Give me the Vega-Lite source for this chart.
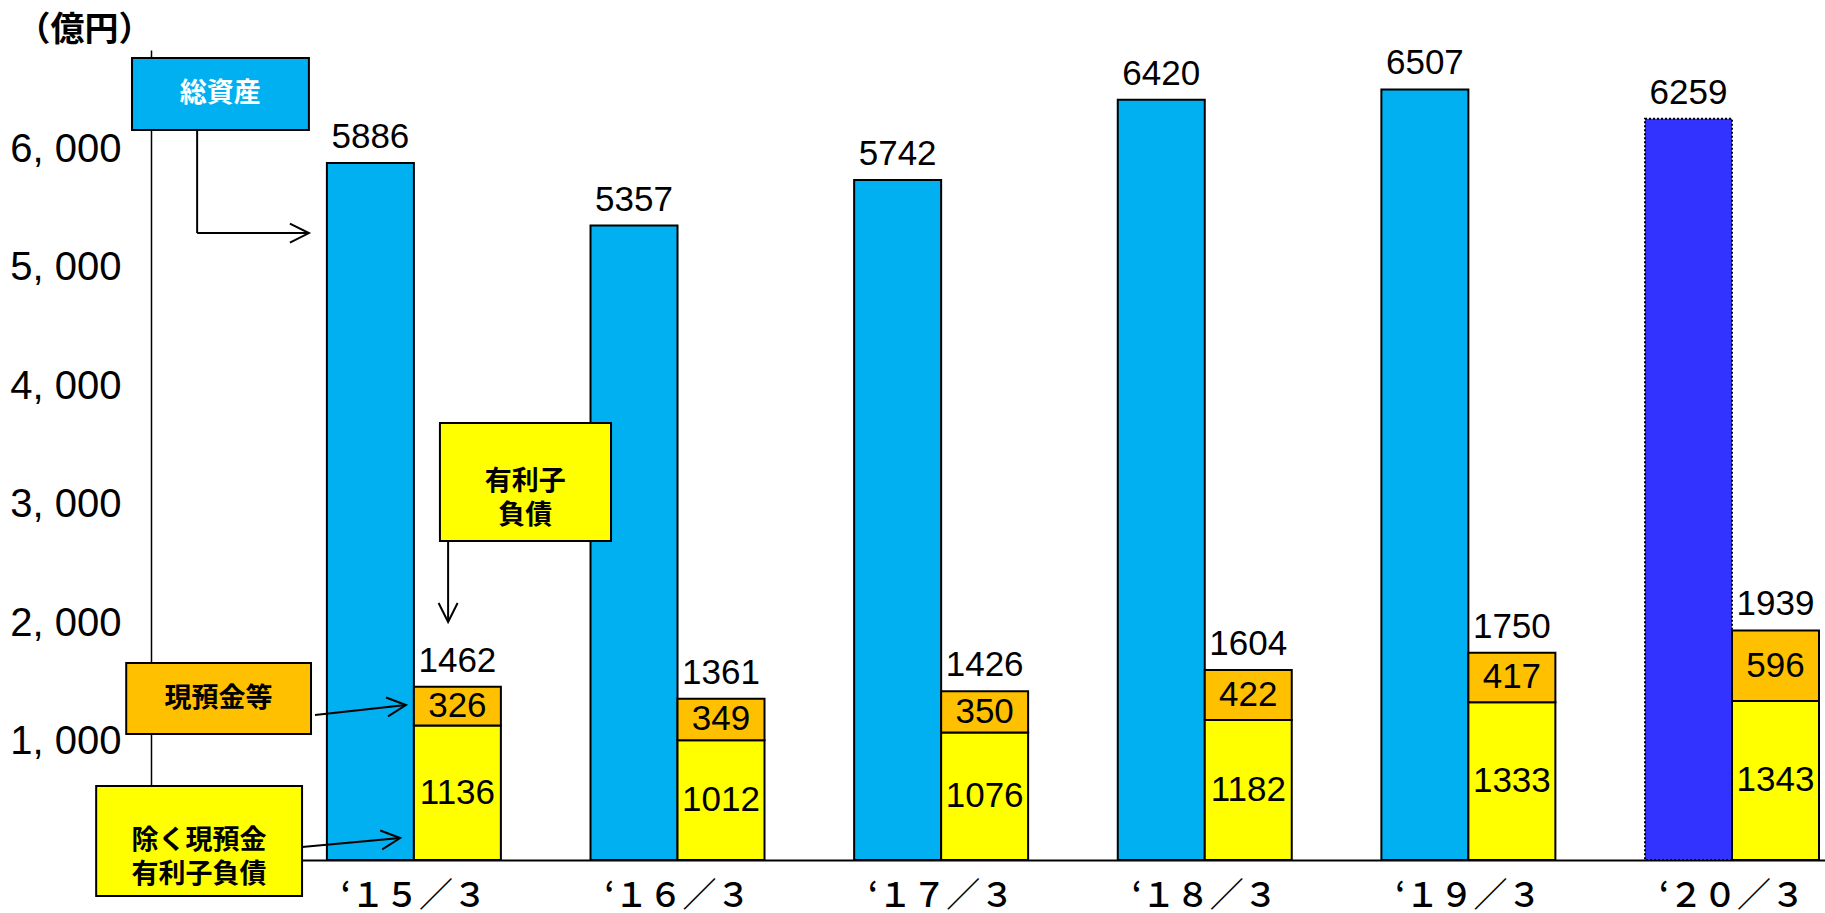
{
  "$schema": "https://vega.github.io/schema/vega-lite/v6.json",
  "width": 1674,
  "height": 810,
  "autosize": {"type": "none"},
  "padding": {"left": 151, "top": 50, "right": 0, "bottom": 53},
  "background": "white",
  "config": {
    "view": {"stroke": null},
    "axis": {"grid": false},
    "axisY": {"labelFont": "Liberation Sans", "labelFontSize": 40, "labelColor": "#000000", "labelPadding": 30, "ticks": false, "tickSize": 0, "domainColor": "#000000", "domainWidth": 1.5, "titleAngle": 0, "titleAlign": "left", "titleBaseline": "middle", "titleX": -135, "titleY": -20, "titleFont": "Noto Sans CJK JP", "titleFontSize": 34, "titleFontWeight": "bold", "titleColor": "#000000"}
  },
  "datasets": {
    "bars": [
      {"year": "‘１５／３", "group": "総資産", "part": "総資産", "value": 5886},
      {"year": "‘１６／３", "group": "総資産", "part": "総資産", "value": 5357},
      {"year": "‘１７／３", "group": "総資産", "part": "総資産", "value": 5742},
      {"year": "‘１８／３", "group": "総資産", "part": "総資産", "value": 6420},
      {"year": "‘１９／３", "group": "総資産", "part": "総資産", "value": 6507},
      {"year": "‘２０／３", "group": "総資産", "part": "総資産", "value": 6259},
      {"year": "‘１５／３", "group": "有利子負債", "part": "除く現預金有利子負債", "value": 1136},
      {"year": "‘１６／３", "group": "有利子負債", "part": "除く現預金有利子負債", "value": 1012},
      {"year": "‘１７／３", "group": "有利子負債", "part": "除く現預金有利子負債", "value": 1076},
      {"year": "‘１８／３", "group": "有利子負債", "part": "除く現預金有利子負債", "value": 1182},
      {"year": "‘１９／３", "group": "有利子負債", "part": "除く現預金有利子負債", "value": 1333},
      {"year": "‘２０／３", "group": "有利子負債", "part": "除く現預金有利子負債", "value": 1343},
      {"year": "‘１５／３", "group": "有利子負債", "part": "現預金等", "value": 326},
      {"year": "‘１６／３", "group": "有利子負債", "part": "現預金等", "value": 349},
      {"year": "‘１７／３", "group": "有利子負債", "part": "現預金等", "value": 350},
      {"year": "‘１８／３", "group": "有利子負債", "part": "現預金等", "value": 422},
      {"year": "‘１９／３", "group": "有利子負債", "part": "現預金等", "value": 417},
      {"year": "‘２０／３", "group": "有利子負債", "part": "現預金等", "value": 596}
    ],
    "boxes": [
      {"label": "総資産", "kind": "総資産", "u": -1.072, "u2": -0.401, "v": 6772, "v2": 6164, "cu": -0.737, "cv": 6468},
      {"label": "有利子\n負債", "kind": "有利子負債", "u": 0.096, "u2": 0.745, "v": 3690, "v2": 2694, "cu": 0.42, "cv": 3192},
      {"label": "現預金等", "kind": "現預金等", "u": -1.094, "u2": -0.393, "v": 1663, "v2": 1064, "cu": -0.744, "cv": 1363},
      {"label": "除く現預金\n有利子負債", "kind": "除く現預金有利子負債", "u": -1.208, "u2": -0.427, "v": 625, "v2": -304, "cu": -0.818, "cv": 160}
    ],
    "arrows": [
      {"u": -0.825, "u2": -0.825, "v": 6164, "v2": 5294},
      {"u": -0.825, "u2": -0.401, "v": 5294, "v2": 5294},
      {"u": 0.127, "u2": 0.127, "v": 2694, "v2": 2010},
      {"u": -0.378, "u2": -0.033, "v": 1224, "v2": 1309},
      {"u": -0.427, "u2": -0.055, "v": 110, "v2": 186}
    ],
    "heads": [
      {"dir": "right", "u": -0.401, "v": 5294},
      {"dir": "down", "u": 0.127, "v": 2010},
      {"dir": "upright", "u": -0.033, "v": 1309},
      {"dir": "upright", "u": -0.055, "v": 186}
    ]
  },
  "layer": [
    {
      "data": {"name": "bars"},
      "encoding": {
        "x": {
          "field": "year", "type": "nominal", "sort": null, "title": null,
          "scale": {"paddingInner": 0.34, "paddingOuter": 0.345, "align": 0.967},
          "axis": {"labelFont": "Noto Sans CJK JP", "labelFontSize": 34, "labelFontWeight": 500, "labelColor": "#000000", "labelAngle": 0, "labelPadding": 19, "labelBaseline": "top", "ticks": false, "tickSize": 0, "domainColor": "#000000", "domainWidth": 2}
        },
        "xOffset": {"field": "group", "type": "nominal", "scale": {"domain": ["総資産", "有利子負債"], "paddingInner": 0, "paddingOuter": 0}}
      },
      "layer": [
        {
          "transform": [{"filter": "datum.group === '総資産'"}],
          "mark": {"type": "bar", "stroke": "#000000", "strokeWidth": 2},
          "encoding": {
            "y": {
              "field": "value", "type": "quantitative", "title": "（億円）",
              "scale": {"domain": [0, 6840], "nice": false},
              "axis": {"values": [1000, 2000, 3000, 4000, 5000, 6000], "format": ",d", "labelExpr": "replace(datum.label, ',', ', ')"}
            },
            "fill": {
              "condition": {"test": "datum.year === '‘２０／３'", "value": "#3333FF"},
              "field": "part", "type": "nominal",
              "scale": {"domain": ["総資産", "除く現預金有利子負債", "現預金等", "有利子負債"], "range": ["#00B0F0", "#FFFF00", "#FFC000", "#FFFF00"]},
              "legend": null
            },
            "strokeDash": {"condition": {"test": "datum.year === '‘２０／３'", "value": [2, 2]}, "value": [1, 0]}
          }
        },
        {
          "transform": [{"filter": "datum.group === '有利子負債'"}],
          "mark": {"type": "bar", "stroke": "#000000", "strokeWidth": 2},
          "encoding": {
            "y": {"field": "value", "type": "quantitative", "stack": "zero", "title": "（億円）", "scale": {"domain": [0, 6840], "nice": false}, "axis": {"values": [1000, 2000, 3000, 4000, 5000, 6000], "format": ",d", "labelExpr": "replace(datum.label, ',', ', ')"}},
            "fill": {
              "field": "part", "type": "nominal",
              "scale": {"domain": ["総資産", "除く現預金有利子負債", "現預金等", "有利子負債"], "range": ["#00B0F0", "#FFFF00", "#FFC000", "#FFFF00"]},
              "legend": null
            },
            "order": {"field": "part", "sort": "descending"}
          }
        },
        {
          "transform": [{"filter": "datum.group === '総資産'"}],
          "mark": {"type": "text", "font": "Liberation Sans", "fontSize": 35, "baseline": "alphabetic", "dy": -15, "color": "#000000"},
          "encoding": {
            "y": {"field": "value", "type": "quantitative", "title": "（億円）", "scale": {"domain": [0, 6840], "nice": false}, "axis": {"values": [1000, 2000, 3000, 4000, 5000, 6000], "format": ",d", "labelExpr": "replace(datum.label, ',', ', ')"}},
            "text": {"field": "value", "type": "quantitative", "format": "d"}
          }
        },
        {
          "transform": [{"filter": "datum.group === '有利子負債'"}],
          "mark": {"type": "text", "font": "Liberation Sans", "fontSize": 35, "baseline": "middle", "color": "#000000"},
          "encoding": {
            "y": {"field": "value", "type": "quantitative", "stack": "zero", "bandPosition": 0.5, "title": "（億円）", "scale": {"domain": [0, 6840], "nice": false}, "axis": {"values": [1000, 2000, 3000, 4000, 5000, 6000], "format": ",d", "labelExpr": "replace(datum.label, ',', ', ')"}},
            "detail": {"field": "part", "type": "nominal"},
            "order": {"field": "part", "sort": "descending"},
            "text": {"field": "value", "type": "quantitative", "format": "d"}
          }
        },
        {
          "transform": [{"filter": "datum.group === '有利子負債'"}],
          "mark": {"type": "text", "font": "Liberation Sans", "fontSize": 35, "baseline": "alphabetic", "dy": -15, "color": "#000000"},
          "encoding": {
            "y": {"aggregate": "sum", "field": "value", "type": "quantitative", "stack": null, "title": "（億円）", "scale": {"domain": [0, 6840], "nice": false}, "axis": {"values": [1000, 2000, 3000, 4000, 5000, 6000], "format": ",d", "labelExpr": "replace(datum.label, ',', ', ')"}},
            "text": {"aggregate": "sum", "field": "value", "type": "quantitative", "format": "d"}
          }
        }
      ]
    },
    {
      "layer": [
        {
          "data": {"name": "boxes"},
          "mark": {"type": "rect", "stroke": "#000000", "strokeWidth": 2},
          "encoding": {
            "x": {"field": "u", "type": "quantitative", "scale": {"domain": [-1, 5.35], "nice": false, "zero": false}, "axis": null},
            "x2": {"field": "u2"},
            "y": {"field": "v", "type": "quantitative", "title": "（億円）", "scale": {"domain": [0, 6840], "nice": false}, "axis": {"values": [1000, 2000, 3000, 4000, 5000, 6000], "format": ",d", "labelExpr": "replace(datum.label, ',', ', ')"}},
            "y2": {"field": "v2"},
            "fill": {
              "field": "kind", "type": "nominal",
              "scale": {"domain": ["総資産", "除く現預金有利子負債", "現預金等", "有利子負債"], "range": ["#00B0F0", "#FFFF00", "#FFC000", "#FFFF00"]},
              "legend": null
            }
          }
        },
        {
          "data": {"name": "boxes"},
          "mark": {"type": "text", "font": "Noto Sans CJK JP", "fontSize": 27, "fontWeight": "bold", "lineBreak": "\n", "lineHeight": 34, "baseline": "middle", "align": "center"},
          "encoding": {
            "x": {"field": "cu", "type": "quantitative", "scale": {"domain": [-1, 5.35], "nice": false, "zero": false}, "axis": null},
            "y": {"field": "cv", "type": "quantitative", "title": "（億円）", "scale": {"domain": [0, 6840], "nice": false}, "axis": {"values": [1000, 2000, 3000, 4000, 5000, 6000], "format": ",d", "labelExpr": "replace(datum.label, ',', ', ')"}},
            "text": {"field": "label", "type": "nominal"},
            "color": {"condition": {"test": "datum.kind === '総資産'", "value": "#FFFFFF"}, "value": "#000000"}
          }
        },
        {
          "data": {"name": "arrows"},
          "mark": {"type": "rule", "color": "#000000", "strokeWidth": 2},
          "encoding": {
            "x": {"field": "u", "type": "quantitative", "scale": {"domain": [-1, 5.35], "nice": false, "zero": false}, "axis": null},
            "x2": {"field": "u2"},
            "y": {"field": "v", "type": "quantitative", "title": "（億円）", "scale": {"domain": [0, 6840], "nice": false}, "axis": {"values": [1000, 2000, 3000, 4000, 5000, 6000], "format": ",d", "labelExpr": "replace(datum.label, ',', ', ')"}},
            "y2": {"field": "v2"}
          }
        },
        {
          "data": {"name": "heads"},
          "transform": [{"filter": "datum.dir === 'right'"}],
          "mark": {"type": "point", "shape": "M-1,-0.5L0,0L-1,0.5", "size": 1444, "filled": false, "stroke": "#000000", "strokeWidth": 2, "opacity": 1, "angle": 0},
          "encoding": {
            "x": {"field": "u", "type": "quantitative", "scale": {"domain": [-1, 5.35], "nice": false, "zero": false}, "axis": null},
            "y": {"field": "v", "type": "quantitative", "title": "（億円）", "scale": {"domain": [0, 6840], "nice": false}, "axis": {"values": [1000, 2000, 3000, 4000, 5000, 6000], "format": ",d", "labelExpr": "replace(datum.label, ',', ', ')"}}
          }
        },
        {
          "data": {"name": "heads"},
          "transform": [{"filter": "datum.dir === 'down'"}],
          "mark": {"type": "point", "shape": "M-1,-0.5L0,0L-1,0.5", "size": 1444, "filled": false, "stroke": "#000000", "strokeWidth": 2, "opacity": 1, "angle": 90},
          "encoding": {
            "x": {"field": "u", "type": "quantitative", "scale": {"domain": [-1, 5.35], "nice": false, "zero": false}, "axis": null},
            "y": {"field": "v", "type": "quantitative", "title": "（億円）", "scale": {"domain": [0, 6840], "nice": false}, "axis": {"values": [1000, 2000, 3000, 4000, 5000, 6000], "format": ",d", "labelExpr": "replace(datum.label, ',', ', ')"}}
          }
        },
        {
          "data": {"name": "heads"},
          "transform": [{"filter": "datum.dir === 'upright'"}],
          "mark": {"type": "point", "shape": "M-1,-0.5L0,0L-1,0.5", "size": 1444, "filled": false, "stroke": "#000000", "strokeWidth": 2, "opacity": 1, "angle": -6},
          "encoding": {
            "x": {"field": "u", "type": "quantitative", "scale": {"domain": [-1, 5.35], "nice": false, "zero": false}, "axis": null},
            "y": {"field": "v", "type": "quantitative", "title": "（億円）", "scale": {"domain": [0, 6840], "nice": false}, "axis": {"values": [1000, 2000, 3000, 4000, 5000, 6000], "format": ",d", "labelExpr": "replace(datum.label, ',', ', ')"}}
          }
        }
      ]
    }
  ],
  "resolve": {"scale": {"x": "independent"}}
}
